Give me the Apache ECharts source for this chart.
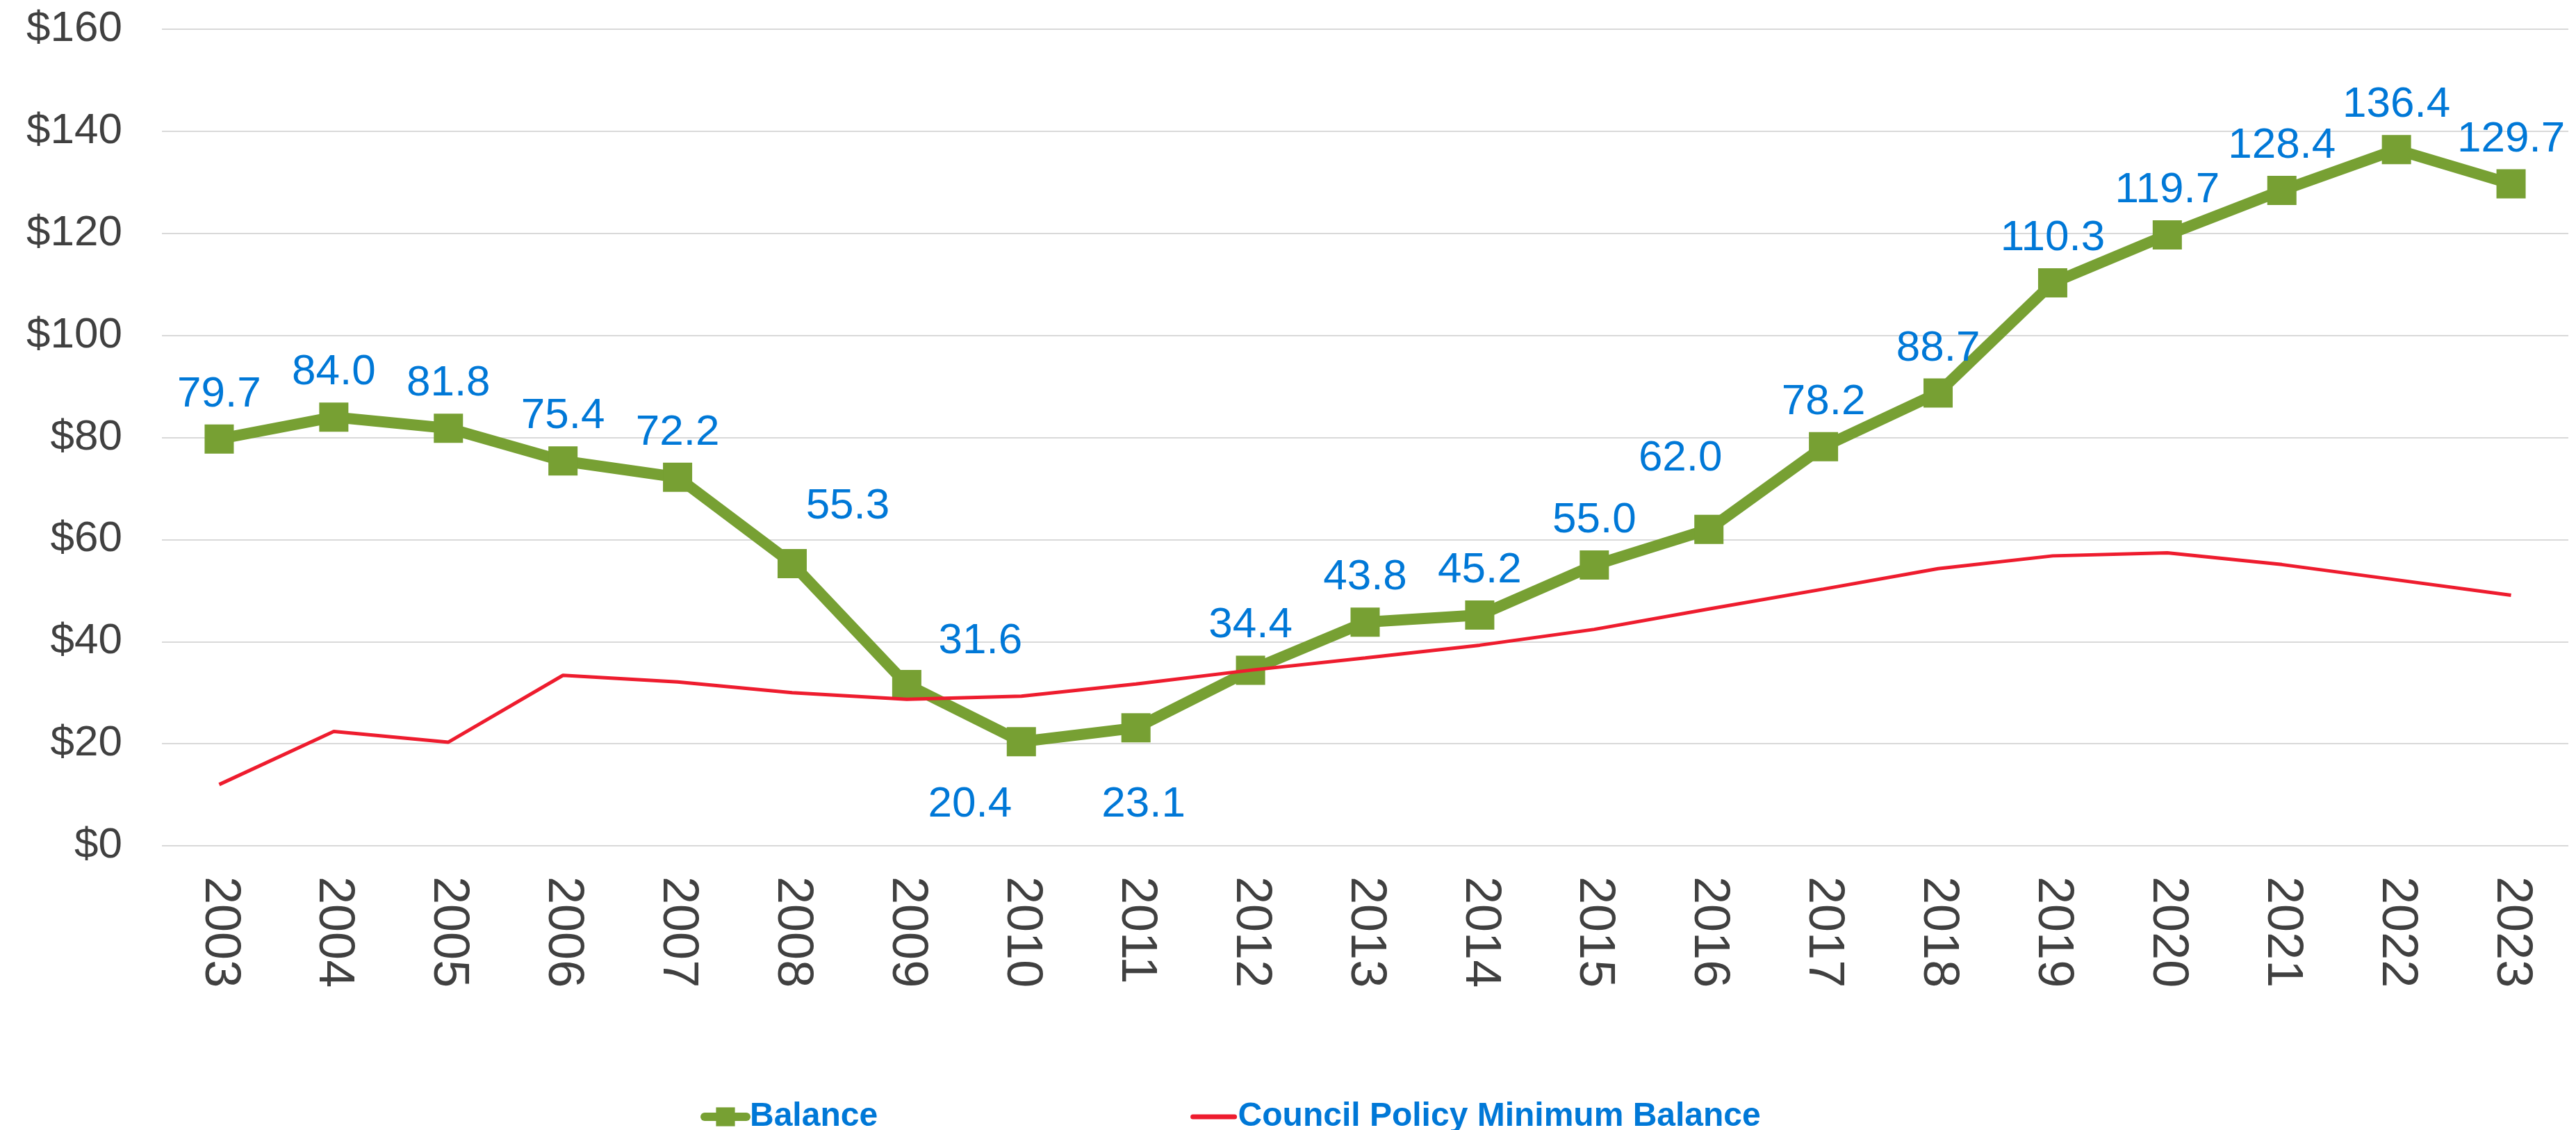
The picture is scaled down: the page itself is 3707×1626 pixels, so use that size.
<!DOCTYPE html>
<html>
<head>
<meta charset="utf-8">
<style>
    body { margin: 0; background: #fff; }
    #chart { width: 3707px; height: 1626px; }
</style>
</head>
<body>
<div id="chart"></div>
<script src="https://cdn.jsdelivr.net/npm/echarts@6.0.0/dist/echarts.min.js"></script>
<script>
    var years = ['2003', '2004', '2005', '2006', '2007', '2008', '2009', '2010', '2011', '2012', '2013',
        '2014', '2015', '2016', '2017', '2018', '2019', '2020', '2021', '2022', '2023'];
    var balance = [79.7, 84.0, 81.8, 75.4, 72.2, 55.3, 31.6, 20.4, 23.1, 34.4, 43.8,
        45.2, 55.0, 62.0, 78.2, 88.7, 110.3, 119.7, 128.4, 136.4, 129.7];
    var policyMinimum = [12.0, 22.4, 20.3, 33.4, 32.1, 30.0, 28.7, 29.3, 31.7, 34.4, 36.8,
        39.3, 42.4, 46.4, 50.3, 54.3, 56.8, 57.4, 55.1, 52.1, 49.1];
    var yTicks = [0, 20, 40, 60, 80, 100, 120, 140, 160];

    // labels that were moved by hand in the original
    var labelTweaks = {
        '2008': { position: 'top', offset: [80, -18] },
        '2009': { position: 'top', offset: [106, 2] },
        '2010': { position: 'bottom', offset: [-74, 27] },
        '2011': { position: 'bottom', offset: [11, 47] },
        '2016': { position: 'top', offset: [-41, -38] }
    };

    var green = '#77A033';
    var red = '#EE1C2E';
    var blue = '#0078D7';
    var axisText = '#404040';
    var font = '"Liberation Sans", Arial, sans-serif';

    var balanceData = balance.map(function (v, i) {
        var item = { value: v };
        var t = labelTweaks[years[i]];
        if (t) {
            item.label = { position: t.position, offset: t.offset };
        }
        return item;
    });

    var myChart = echarts.init(document.getElementById('chart'));
    var option = {
        animation: false,
        backgroundColor: '#fff',
        grid: { left: 233, right: 11, top: 42, bottom: 409 },
        legend: {
            left: 1008,
            top: 1583,
            padding: 0,
            itemWidth: 60,
            itemHeight: 34,
            itemGap: 450,
            textStyle: { color: blue, fontFamily: font, fontWeight: 'bold', fontSize: 48 },
            data: [
                { name: 'Balance', lineStyle: { width: 12, cap: 'round' } },
                // no marker on this one, just the line
                { name: 'Council Policy Minimum Balance', itemStyle: { opacity: 0 }, lineStyle: { width: 7, cap: 'round' } }
            ]
        },
        xAxis: {
            type: 'category',
            data: years,
            boundaryGap: true,
            axisLine: { show: false },
            axisTick: { show: false },
            axisLabel: {
                rotate: -90,
                margin: 44,
                interval: 0,
                color: axisText,
                fontFamily: font,
                fontSize: 72
            }
        },
        yAxis: {
            type: 'value',
            min: yTicks[0],
            max: yTicks[yTicks.length - 1],
            interval: yTicks[1] - yTicks[0],
            axisLine: { show: false },
            axisTick: { show: false },
            splitLine: { lineStyle: { color: '#D9D9D9', width: 2 } },
            axisLabel: {
                margin: 57,
                color: axisText,
                fontFamily: font,
                fontSize: 62,
                formatter: function (v) { return '$' + v; }
            }
        },
        series: [
            {
                name: 'Balance',
                type: 'line',
                data: balanceData,
                symbol: 'rect',
                symbolSize: 42,
                itemStyle: { color: green },
                lineStyle: { color: green, width: 16 },
                label: {
                    show: true,
                    position: 'top',
                    distance: 12,
                    color: blue,
                    fontFamily: font,
                    fontSize: 62,
                    formatter: function (p) { return p.value.toFixed(1); }
                },
                z: 2
            },
            {
                name: 'Council Policy Minimum Balance',
                type: 'line',
                data: policyMinimum,
                symbol: 'none',
                itemStyle: { color: red },
                lineStyle: { color: red, width: 5 },
                z: 3
            }
        ]
    };
    myChart.setOption(option);
</script>
</body>
</html>
